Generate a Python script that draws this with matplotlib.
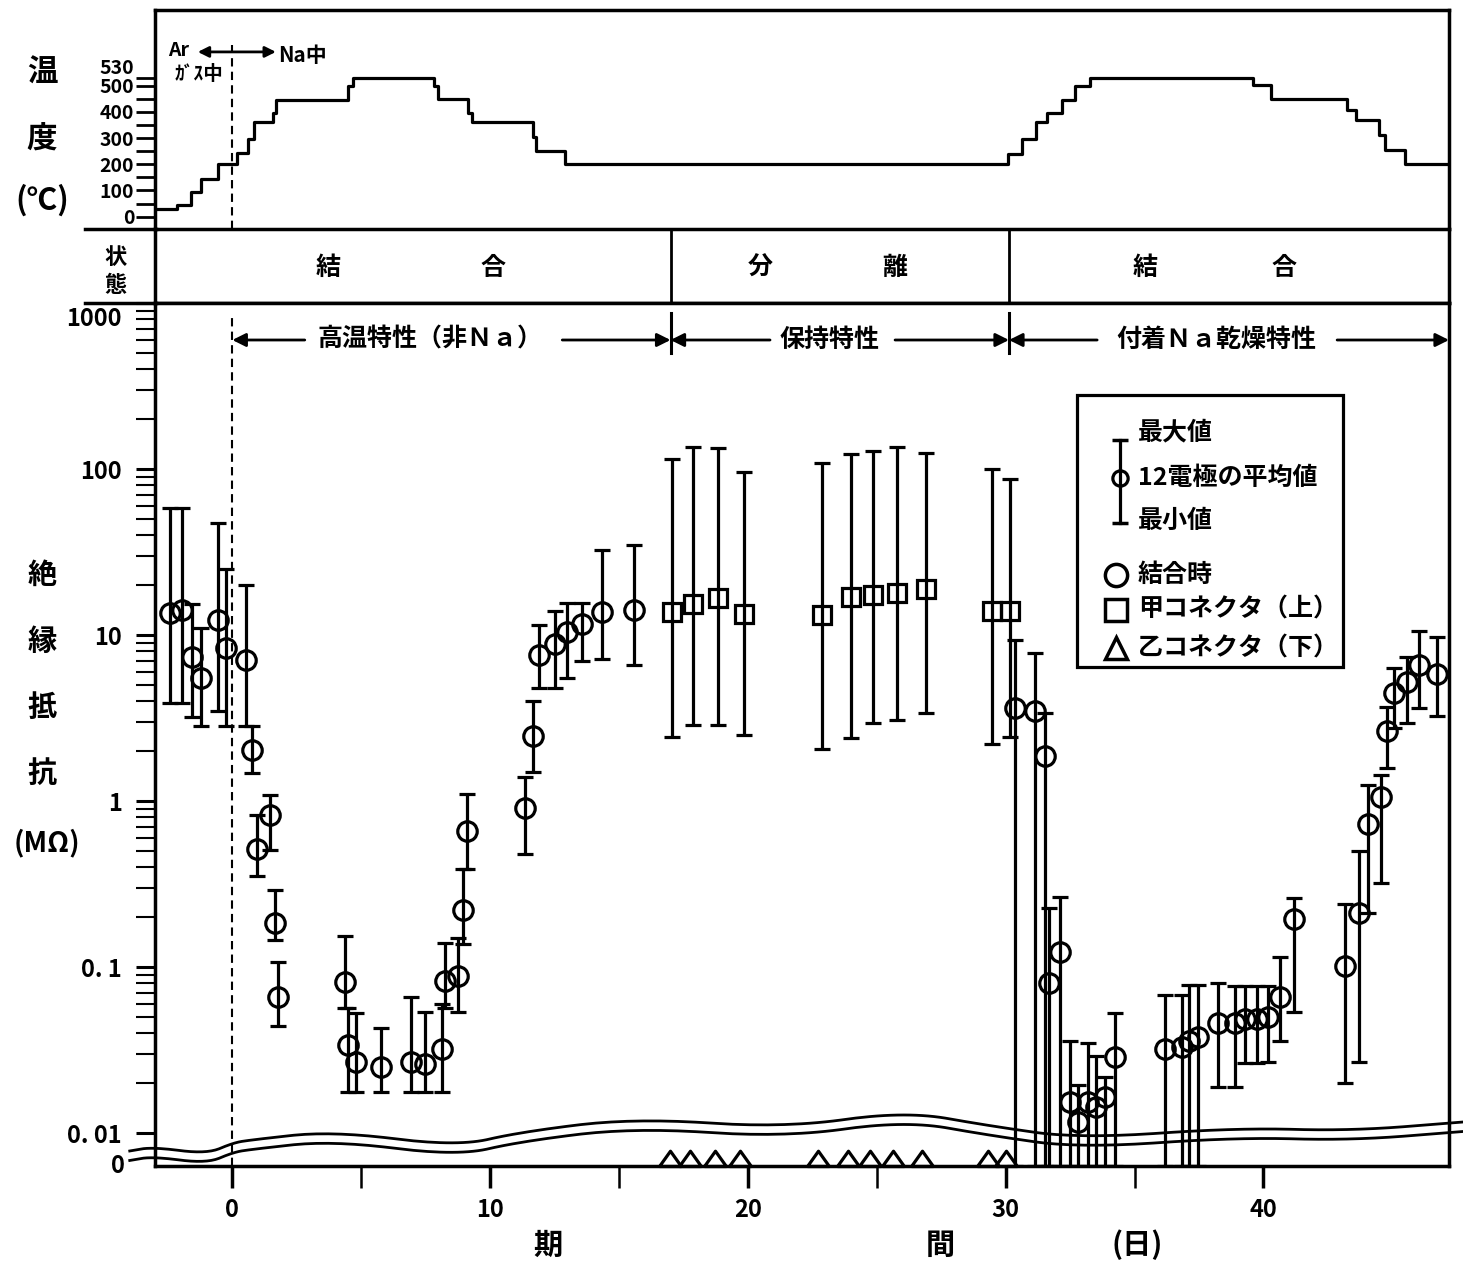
import numpy as np
import matplotlib.pyplot as plt
from matplotlib.patches import Rectangle
from matplotlib.lines import Line2D
from matplotlib.ticker import NullFormatter
from matplotlib.transforms import blended_transform_factory, offset_copy

plt.rcParams['font.family'] = ['Noto Sans CJK JP', 'DejaVu Sans']
plt.rcParams['font.weight'] = 'bold'

# temperature program: day each step starts, temperature (deg C)
temp_day = [-3.0, -2.13, -1.6, -1.23, -0.56, 0.2, 0.6, 0.83, 1.57, 1.69,
            4.48, 4.68, 7.84, 7.99, 9.16, 9.3, 11.65, 11.8, 12.89,
            30.1, 30.64, 31.18, 31.62, 32.17, 32.71, 33.26,
            39.6, 40.3, 43.25, 43.6, 44.47, 44.7, 45.5, 47.2]
temp_c = [30, 45, 95, 145, 200, 245, 295, 360, 395, 445,
          500, 530, 500, 450, 395, 360, 305, 250, 200,
          240, 296, 363, 395, 444, 497, 530,
          503, 449, 408, 370, 310, 255, 200, 200]

# circles: coupled state, mean of 12 electrodes with min / max (MOhm), 0 = below scale
c_day = [-2.43, -1.97, -1.56, -1.22, -0.55, -0.25, 0.52, 0.75, 0.96, 1.48, 1.66, 1.78,
         4.36, 4.48, 4.80, 5.76, 6.92, 7.47, 8.13, 8.24, 8.75, 8.93, 9.12,
         11.35, 11.66, 11.89, 12.51, 12.97, 13.55, 14.33, 15.59,
         30.37, 31.14, 31.53, 31.70, 32.12, 32.50, 32.82, 33.19, 33.51, 33.86, 34.25,
         36.19, 36.83, 37.12, 37.47, 38.24, 38.90, 39.29, 39.75, 40.18, 40.65, 41.19,
         43.17, 43.72, 44.07, 44.56, 44.79, 45.07, 45.59, 46.05, 46.75]
c_mean = [13.5, 14.1, 7.4, 5.5, 12.3, 8.3, 7.1, 2.04, 0.515, 0.82, 0.185, 0.066,
          0.081, 0.034, 0.027, 0.025, 0.027, 0.026, 0.032, 0.082, 0.089, 0.22, 0.66,
          0.91, 2.46, 7.6, 8.8, 10.5, 11.6, 13.8, 14.2,
          3.63, 3.47, 1.86, 0.080, 0.123, 0.0155, 0.0117, 0.0155, 0.0144, 0.0165, 0.0287,
          0.032, 0.033, 0.036, 0.038, 0.046, 0.046, 0.049, 0.049, 0.050, 0.066, 0.195,
          0.102, 0.213, 0.73, 1.06, 2.66, 4.5, 5.25, 6.6, 5.8]
c_min = [3.9, 3.9, 3.2, 2.85, 3.5, 2.85, 2.85, 1.47, 0.355, 0.51, 0.145, 0.044,
         0.057, 0.0176, 0.0176, 0.0176, 0.0176, 0.0176, 0.0176, 0.057, 0.054, 0.138, 0.39,
         0.48, 1.5, 4.8, 4.8, 5.5, 7.0, 7.2, 6.6,
         0, 0, 0, 0, 0, 0, 0, 0, 0, 0, 0,
         0, 0, 0, 0, 0.019, 0.019, 0.0265, 0.0265, 0.027, 0.036, 0.054,
         0.020, 0.027, 0.213, 0.32, 1.58, 2.75, 2.95, 3.63, 3.24]
c_max = [58, 58, 15.3, 11.1, 47, 25, 20, 2.85, 0.82, 1.09, 0.29, 0.107,
         0.155, 0.057, 0.053, 0.043, 0.066, 0.054, 0.06, 0.14, 0.15, 0.39, 1.1,
         1.4, 4.0, 11.5, 14, 15.5, 15.5, 32.6, 35,
         9.4, 7.8, 3.4, 0.228, 0.265, 0.036, 0.0194, 0.035, 0.029, 0.0218, 0.0528,
         0.068, 0.068, 0.078, 0.078, 0.08, 0.077, 0.077, 0.077, 0.077, 0.115, 0.26,
         0.24, 0.50, 1.25, 1.43, 3.67, 6.3, 7.4, 10.6, 9.8]

# squares: connector A (upper)
s_day = [17.04, 17.88, 18.85, 19.85, 22.86, 24.00, 24.84, 25.77, 26.91, 29.46, 30.17]
s_mean = [13.8, 15.3, 16.8, 13.3, 13.2, 17.0, 17.5, 17.8, 19.0, 14.0, 14.0]
s_min = [2.44, 2.86, 2.86, 2.5, 2.05, 2.4, 2.94, 3.1, 3.4, 2.2, 2.44]
s_max = [115, 135, 134, 96, 109, 123, 129, 135, 125, 100, 87]

# triangles: connector B (lower), all at 0
t_day = [16.98, 17.75, 18.72, 19.69, 22.71, 23.88, 24.73, 25.63, 26.75, 29.32, 30.02]
t_val = [0, 0, 0, 0, 0, 0, 0, 0, 0, 0, 0]

r_ticks = [0.01, 0.1, 1, 10, 100, 1000]
r_labels = ['0. 01', '0. 1', '1', '10', '100', '']
temp_ticks = [0, 100, 200, 300, 400, 500, 530]
temp_labels = ['0', '100', '200', '300', '400', '500', '']

YMIN = 0.00634   # position of "0" below the axis break
XMIN, XMAX = -3.0, 47.2
B1, B2 = 17.0, 30.13   # state boundaries (days)

W, H = 1463, 1265
fig = plt.figure(figsize=(W / 100, H / 100), dpi=100)


def fx(px):
    return px / W


def fy(py):
    return 1 - py / H


ax_t = fig.add_axes([fx(155), fy(229), fx(1449) - fx(155), fy(10) - fy(229)])
ax_s = fig.add_axes([fx(155), fy(303), fx(1449) - fx(155), fy(229) - fy(303)])
ax = fig.add_axes([fx(155), fy(1166), fx(1449) - fx(155), fy(303) - fy(1166)])
for a in (ax_t, ax_s, ax):
    a.set_xlim(XMIN, XMAX)
    for sp in a.spines.values():
        sp.set_linewidth(2.5)

# ---- temperature panel ----
ax_t.plot(temp_day, temp_c, drawstyle='steps-post', color='k', lw=2.3)
ax_t.set_ylim(-47, 789)
ax_t.set_xticks([])
ax_t.set_yticks(temp_ticks)
ax_t.set_yticklabels(temp_labels)
ax_t.set_yticks(np.arange(50, 500, 100), minor=True)
ax_t.tick_params(axis='y', which='both', direction='out', length=14, width=2,
                 labelsize=14, pad=1)
ax_t.spines['bottom'].set_visible(False)
tb = blended_transform_factory(ax_t.transAxes, ax_t.transData)
ax_t.text(-0.0162, 530, '530', transform=offset_copy(tb, fig=fig, y=9, units='dots'),
          ha='right', va='center', fontsize=14)
ax_t.axvline(0, 0, (229 - 45) / 219, color='k', lw=1.5, ls=(0, (4, 2.5)))
ax_t.text(-2.1, 636, 'Ar', ha='center', va='center', fontsize=14)
ax_t.text(-1.3, 541, 'ｶﾞｽ中', ha='center', va='center', fontsize=14)
ax_t.annotate('', xy=(1.69, 629), xytext=(-1.34, 629),
              arrowprops=dict(arrowstyle='<|-|>', color='k', lw=2, mutation_scale=16,
                              shrinkA=0, shrinkB=0))
ax_t.text(1.77, 617, 'Na中', ha='left', va='center', fontsize=15)

# ---- state row ----
ax_s.set_xticks([])
ax_s.set_yticks([])
ax_s.set_ylim(0, 1)
for b in (B1, B2):
    ax_s.axvline(b, color='k', lw=2)
for xd, ch in [(3.7, '結'), (10.1, '合'), (20.47, '分'), (25.7, '離'), (35.4, '結'), (40.8, '合')]:
    ax_s.text(xd, 0.47, ch, ha='center', va='center', fontsize=18)

# ---- insulation resistance panel ----
ax.set_yscale('log')
ax.set_ylim(YMIN, 1000)

c_mean_a = np.array(c_mean)
c_lo = np.where(np.array(c_min) > 0, c_min, YMIN)
c_hi = np.array(c_max)
ax.errorbar(c_day, c_mean_a, yerr=[c_mean_a - c_lo, c_hi - c_mean_a], fmt='o', ms=14,
            mfc='none', mec='k', mew=2.3, ecolor='k', elinewidth=2.3, capsize=6,
            capthick=2.5, zorder=3)
s_mean_a = np.array(s_mean)
ax.errorbar(s_day, s_mean_a, yerr=[s_mean_a - np.array(s_min), np.array(s_max) - s_mean_a],
            fmt='s', ms=13, mfc='none', mec='k', mew=2.3, ecolor='k', elinewidth=2.3,
            capsize=6, capthick=2.5, zorder=3)
t_y = np.where(np.array(t_val) > 0, t_val, YMIN)
ax.plot(t_day, t_y, ls='none', marker=[(-1, 0), (1, 0), (0, 1.4), (-1, 0)], ms=22,
        mfc='none', mec='k', mew=2.3, clip_on=False, zorder=4)

ax.set_yticks(r_ticks)
ax.set_yticklabels(r_labels)
minor = [k * 10.0 ** e for e in range(-2, 3) for k in range(2, 10)]
ax.set_yticks(minor, minor=True)
ax.yaxis.set_minor_formatter(NullFormatter())
ax.tick_params(axis='y', which='major', direction='out', length=14, width=2.2,
               labelsize=17, pad=10)
ax.tick_params(axis='y', which='minor', direction='out', length=14, width=1.5)
ax.set_xticks([0, 10, 20, 30, 40])
ax.set_xticks([5, 15, 25, 35], minor=True)
ax.tick_params(axis='x', which='major', direction='out', length=16, width=2.5,
               labelsize=17, pad=7)
ax.tick_params(axis='x', which='minor', direction='out', length=16, width=1.8)

yb = blended_transform_factory(ax.transAxes, ax.transData)
ax.text(-0.0259, 1000, '1000', transform=offset_copy(yb, fig=fig, y=-16, units='dots'),
        ha='right', va='center', fontsize=17)
ax.text(-0.023, YMIN, '0', transform=yb, ha='right', va='center', fontsize=17)

ax.axvline(0, 0, (1166 - 318) / 863, color='k', lw=1.5, ls=(0, (4, 2.5)))

# axis break (two wavy lines)
wave_x = [-3.98, -3.09, -0.99, 0.02, 0.68, 3.90, 8.71, 11.16, 15.62, 21.40, 26.10,
          29.40, 32.89, 38.98, 43.37, 47.75]
wave_y = [0.0174, 0.0220, 0.0139, 0.0267, 0.0301, 0.0406, 0.0225, 0.0394, 0.0556,
          0.0440, 0.0637, 0.0463, 0.0317, 0.0443, 0.0406, 0.0510]


def chaikin(x, y, n=4):
    pts = np.column_stack([x, y])
    for _ in range(n):
        q = 0.75 * pts[:-1] + 0.25 * pts[1:]
        r = 0.25 * pts[:-1] + 0.75 * pts[1:]
        new = np.empty((2 * len(q), 2))
        new[0::2] = q
        new[1::2] = r
        pts = np.vstack([pts[:1], new, pts[-1:]])
    return pts[:, 0], pts[:, 1]


xb = blended_transform_factory(ax.transData, ax.transAxes)
wx, wy = chaikin(wave_x, wave_y)
ax.plot(wx, wy, color='k', lw=2, transform=xb, clip_on=False, zorder=2)
ax.plot(wx, wy - 0.011, color='k', lw=2, transform=xb, clip_on=False, zorder=2)

# period annotations
yA = (1166 - 340) / 863
for xd, txt in [(7.66, '高温特性（非Ｎａ）'), (23.15, '保持特性'), (38.16, '付着Ｎａ乾燥特性')]:
    ax.text(xd, yA, txt, transform=xb, ha='center', va='center', fontsize=18)
for tail, head in [(2.81, 0.0), (12.8, B1), (20.86, B1), (25.71, B2), (33.55, B2), (42.86, XMAX)]:
    ax.annotate('', xy=(head, yA), xytext=(tail, yA), xycoords=xb, textcoords=xb,
                arrowprops=dict(arrowstyle='-|>', color='k', lw=2, mutation_scale=20,
                                shrinkA=0, shrinkB=0), annotation_clip=False)
for b in (B1, B2):
    ax.plot([b, b], [0.942, 0.988], color='k', lw=2.2, transform=xb, clip_on=False)

# legend box
ta = ax.transAxes
ax.add_patch(Rectangle((0.7125, 0.578), 0.2055, 0.315, transform=ta, fill=False,
                       lw=2.3, ec='k', zorder=5))
lx = 0.7457
ax.plot([lx, lx], [0.7451, 0.8413], color='k', lw=2.3, transform=ta)
ax.plot([lx, lx], [0.7451, 0.8413], ls='none', marker='_', ms=12, mew=2.5, color='k',
        transform=ta)
ax.plot([lx], [0.797], ls='none', marker='o', ms=11, mfc='none', mec='k', mew=2.3,
        transform=ta)
ax.text(0.7597, 0.8505, '最大値', transform=ta, ha='left', va='center', fontsize=18)
ax.text(0.7597, 0.797, '12電極の平均値', transform=ta, ha='left', va='center', fontsize=18)
ax.text(0.7597, 0.7474, '最小値', transform=ta, ha='left', va='center', fontsize=18)
for mk, yy, txt in [('o', 0.6848, '結合時'), ('s', 0.6443, '甲コネクタ（上）'),
                    ('^', 0.6002, '乙コネクタ（下）')]:
    ax.plot([0.7427], [yy], ls='none', marker=mk, ms=16, mfc='none', mec='k', mew=2.5,
            transform=ta)
    ax.text(0.7597, yy, txt, transform=ta, ha='left', va='center', fontsize=18)

# separators extended to the left
for py in (229, 303):
    fig.add_artist(Line2D([fx(85), fx(156)], [fy(py), fy(py)], color='k', lw=2.5))

# axis titles
for py, ch in [(73, '温'), (140, '度')]:
    fig.text(fx(42), fy(py), ch, ha='center', va='center', fontsize=22)
fig.text(fx(42), fy(200), '(℃)', ha='center', va='center', fontsize=22)
fig.text(fx(115), fy(257), '状', ha='center', va='center', fontsize=16)
fig.text(fx(115), fy(285), '態', ha='center', va='center', fontsize=16)
for py, ch in [(575, '絶'), (641, '縁'), (707, '抵'), (773, '抗')]:
    fig.text(fx(42), fy(py), ch, ha='center', va='center', fontsize=21)
fig.text(fx(47), fy(843), '(MΩ)', ha='center', va='center', fontsize=20)
fig.text(fx(548), fy(1245), '期', ha='center', va='center', fontsize=21)
fig.text(fx(940), fy(1245), '間', ha='center', va='center', fontsize=21)
fig.text(fx(1137), fy(1245), '(日)', ha='center', va='center', fontsize=21)

fig.savefig('out.png', dpi=100)
